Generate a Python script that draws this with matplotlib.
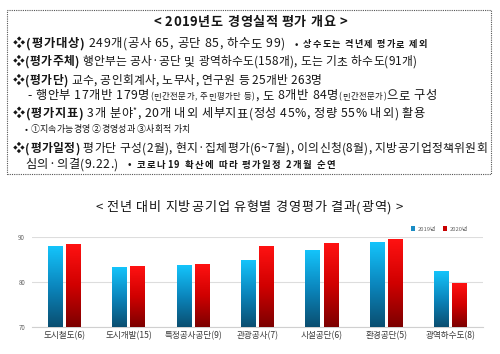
import matplotlib
matplotlib.use('Agg')
import matplotlib.pyplot as plt
import numpy as np
from matplotlib.colors import LinearSegmentedColormap
from matplotlib.patches import Rectangle, Patch

plt.rcParams['font.family'] = ['Noto Sans CJK KR', 'DejaVu Sans']

# ---------------- data ----------------
categories = ['도시철도(6)', '도시개발(15)', '특정공사공단(9)', '관광공사(7)',
              '시설공단(6)', '환경공단(5)', '광역하수도(8)']
values_2019 = [87.9, 83.2, 83.6, 84.8, 86.9, 88.7, 82.3]
values_2020 = [88.3, 83.5, 84.0, 87.9, 88.6, 89.5, 79.7]
series_labels = ['2019년', '2020년']
y_ticks = [70, 80, 90]

box_title = '< 2019년도 경영실적 평가 개요 >'
chart_title = '< 전년 대비 지방공기업 유형별 경영평가 결과(광역) >'

W, H = 500, 354
fig = plt.figure(figsize=(5, 3.54), dpi=100)
fig.patch.set_facecolor('white')
renderer = fig.canvas.get_renderer()
TXT = '#161616'

_cache = {}


def _w(s, size, weight):
    t = fig.text(0, 0, s, fontsize=size, fontweight=weight)
    w = t.get_window_extent(renderer=renderer).width
    t.remove()
    return w


def metrics(ch, size, weight):
    key = (ch, size, weight)
    if key not in _cache:
        bar = _w('|', size, weight)
        bb = _w('||', size, weight)
        a = bb - bar
        adv = _w('|' + ch + '|', size, weight) - bb
        if ch == ' ':
            lsb = 0.0
        else:
            lsb = _w('|' + ch, size, weight) - _w(ch, size, weight) - a
        _cache[key] = (adv, lsb)
    return _cache[key]


def draw_seg(x0, x1, yc, pieces, grow=0.5):
    """pieces: list of (text, size, weight, dy_px). Characters tracked to fill [x0, x1]."""
    base = yc + 4.2
    toks = []
    for txt, size, weight, dy in pieces:
        for ch in txt:
            adv, lsb = metrics(ch, size, weight)
            toks.append((ch, size, weight, dy, adv, lsb))
    total = sum(tk[4] for tk in toks)
    f = (x1 - x0) / total
    scale = f ** grow if f > 1 else f
    n = max(len(toks) - 1, 1)
    extra = (x1 - x0 - total * scale) / n
    x = x0
    for ch, size, weight, dy, adv, lsb in toks:
        if ch != ' ':
            fig.text((x + lsb * scale) / W, 1 - (base + dy * scale) / H, ch,
                     fontsize=size * scale, fontweight=weight,
                     va='baseline', ha='left', color=TXT)
        x += adv * scale + extra


# dotted box
fig.patches.append(Rectangle((7 / W, 1 - 174 / H), (491 - 7) / W, (174 - 10) / H,
                             transform=fig.transFigure, fill=False, edgecolor='#555555',
                             linestyle=(0, (1, 1)), linewidth=0.8))

M, S = 8.2, 5.6
draw_seg(153, 347, 22, [(box_title, 8.8, 'bold', 0)])
draw_seg(13, 285, 43, [('❖(평가대상)', M, 'bold', 0),
                       (' 249개(공사 65, 공단 85, 하수도 99)', M, 'normal', 0)])
draw_seg(295, 427, 43, [('• 상수도는 격년제 평가로 제외', S, 'bold', 0)])
draw_seg(13, 417, 61, [('❖(평가주체)', M, 'bold', 0),
                       (' 행안부는 공사·공단 및 광역하수도(158개), 도는 기초 하수도(91개)', M, 'normal', 0)])
draw_seg(13, 322, 80, [('❖(평가단)', M, 'bold', 0),
                       (' 교수, 공인회계사, 노무사, 연구원 등 25개반 263명', M, 'normal', 0)])
draw_seg(27, 437, 95, [('- 행안부 17개반 179명', M, 'normal', 0),
                       ('(민간전문가, 주민평가단 등)', S, 'normal', 0),
                       (', 도 8개반 84명', M, 'normal', 0),
                       ('(민간전문가)', S, 'normal', 0),
                       ('으로 구성', M, 'normal', 0)])
draw_seg(13, 425, 113, [('❖(평가지표)', M, 'bold', 0),
                        (' 3개 분야', M, 'normal', 0),
                        ('*', S, 'normal', -4),
                        (', 20개 내외 세부지표(정성 45%, 정량 55% 내외) 활용', M, 'normal', 0)])
draw_seg(25, 190, 128, [('• ①지속가능경영 ②경영성과 ③사회적 가치', 6.3, 'normal', 0)])
draw_seg(13, 487, 148, [('❖(평가일정)', M, 'bold', 0),
                        (' 평가단 구성(2월), 현지·집체평가(6~7월), 이의신청(8월), 지방공기업정책위원회', M, 'normal', 0)])
draw_seg(25, 118, 164, [('심의·의결(9.22.)', M, 'normal', 0)])
draw_seg(128, 335, 164, [('• 코로나19 확산에 따라 평가일정 2개월 순연', S, 'bold', 0)])

draw_seg(95, 403, 207, [(chart_title, 8.8, 'normal', 0)])

# ---------------- chart ----------------
ax = fig.add_axes([32 / W, 1 - 327 / H, (483 - 32) / W, (327 - 237) / H])
x = np.arange(len(categories))
bw, off = 0.23, 0.14
b1 = ax.bar(x - off, values_2019, bw, color='none', edgecolor='none')
b2 = ax.bar(x + off, values_2020, bw, color='none', edgecolor='none')

cm_blue = LinearSegmentedColormap.from_list('b', ['#0a4e70', '#0b86bd', '#14c4fb'])
cm_red = LinearSegmentedColormap.from_list('r', ['#7c0000', '#d00000', '#ff1212'])
grad = np.linspace(0, 1, 256).reshape(-1, 1)
for bars, cm in ((b1, cm_blue), (b2, cm_red)):
    for r in bars:
        x0, w, h = r.get_x(), r.get_width(), r.get_height()
        ax.imshow(grad, extent=[x0, x0 + w, 70, h], origin='lower', cmap=cm,
                  aspect='auto', zorder=3, interpolation='bilinear')

ax.set_xlim(-0.5, len(categories) - 0.5)
ax.set_ylim(70, 90)
ax.set_aspect('auto')
ax.set_yticks(y_ticks)
ax.set_yticklabels([str(v) for v in y_ticks])
ax.set_xticks(x)
ax.set_xticklabels(categories)
ax.tick_params(axis='y', length=0, pad=5, labelsize=4.5, labelcolor='#666666')
ax.tick_params(axis='x', length=0, pad=3, labelsize=6.2, labelcolor='#383838')
ax.yaxis.grid(True, color='#dddddd', linewidth=0.8, zorder=0)
ax.set_axisbelow(True)
for s in ('left', 'right', 'top'):
    ax.spines[s].set_visible(False)
ax.spines['bottom'].set_color('#d0d0d0')
ax.spines['bottom'].set_linewidth(0.8)

handles = [Patch(facecolor='#1a8cc4'), Patch(facecolor='#c80000')]
fig.legend(handles, series_labels, loc='center right',
           bbox_to_anchor=(473 / W, 1 - 229 / H), ncol=2, frameon=False,
           fontsize=4.2, handlelength=0.7, handleheight=0.7, handletextpad=0.4,
           columnspacing=1.2, labelcolor='#666666')

fig.savefig('out.png', dpi=100, facecolor='white')
